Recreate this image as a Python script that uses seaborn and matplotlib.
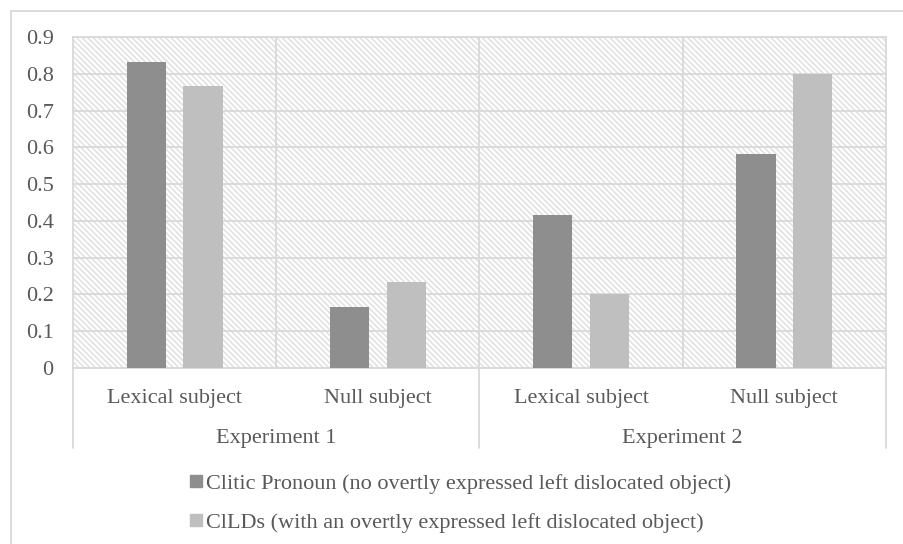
import matplotlib
matplotlib.use("Agg")
import matplotlib.pyplot as plt
import seaborn as sns
import pandas as pd
from matplotlib.lines import Line2D
from matplotlib.patches import Rectangle

# ---- data ----
experiments = ["Experiment 1", "Experiment 2"]
subjects = ["Lexical subject", "Null subject", "Lexical subject", "Null subject"]
series_names = ["Clitic Pronoun (no overtly expressed left dislocated object)",
                "ClLDs (with an overtly expressed left dislocated object)"]
clitic_values = [0.833, 0.167, 0.417, 0.583]
clld_values = [0.767, 0.233, 0.2, 0.8]
y_ticks = [0, 0.1, 0.2, 0.3, 0.4, 0.5, 0.6, 0.7, 0.8, 0.9]
y_tick_labels = ["0", "0.1", "0.2", "0.3", "0.4", "0.5", "0.6", "0.7", "0.8", "0.9"]
colors = ["#8e8e8e", "#bfbfbf"]

keys = [f"{experiments[i // 2]}|{subjects[i]}" for i in range(len(subjects))]
df = pd.DataFrame({
    "key": keys * 2,
    "series": [series_names[0]] * 4 + [series_names[1]] * 4,
    "value": clitic_values + clld_values,
})

sns.set_theme(style="white")
plt.rcParams["font.family"] = ["Liberation Serif", "DejaVu Serif"]
plt.rcParams["hatch.linewidth"] = 1.1
TXT = "#595959"
GRID = "#d9d9d9"
FS = 16

fig = plt.figure(figsize=(9.04, 5.44), dpi=100)
ax = fig.add_axes([73 / 904, 1 - 368 / 544, (886 - 73) / 904, (368 - 37) / 544])

# hatched plot area
ax.patch.set_facecolor("white")
ax.patch.set_edgecolor("#e0e0e0")
ax.patch.set_linewidth(0)
ax.patch.set_hatch("\\\\\\\\\\\\")

sns.barplot(data=df, x="key", y="value", hue="series", order=keys,
            hue_order=series_names, palette=colors, width=0.558, gap=0.31,
            saturation=1, linewidth=0, legend=False, ax=ax, zorder=3)

ax.set_xlim(-0.5, 3.5)
ax.set_ylim(0, 0.9)
ax.set_yticks(y_ticks)
ax.set_yticklabels(y_tick_labels)
ax.set_xticks([])
ax.set_xlabel("")
ax.set_ylabel("")
ax.tick_params(axis="y", length=0, pad=14, labelsize=FS, labelcolor=TXT)
ax.yaxis.grid(True, color=GRID, lw=1.3, zorder=1)
ax.set_axisbelow(True)
for xv in [0.5, 1.5, 2.5]:
    ax.axvline(xv, color=GRID, lw=1.3, zorder=1)
for s in ax.spines.values():
    s.set_color(GRID)
    s.set_linewidth(1.3)

axh = 368 - 37
# category labels
for i, lab in enumerate(subjects):
    ax.text(i, -30 / axh, lab, transform=ax.get_xaxis_transform(), ha="center",
            va="center", fontsize=FS, color=TXT)
for j, lab in enumerate(experiments):
    ax.text(2 * j + 0.5, -70 / axh, lab, transform=ax.get_xaxis_transform(),
            ha="center", va="center", fontsize=FS, color=TXT)
for xv in [-0.5, 1.5, 3.5]:
    ax.plot([xv, xv], [0, -(448 - 368) / axh], transform=ax.get_xaxis_transform(),
            color=GRID, lw=1.3, clip_on=False)

# legend
handles = [Line2D([], [], marker="s", ls="none", markersize=8, color=c) for c in colors]
fig.legend(handles, series_names, loc="center left",
           bbox_to_anchor=(190 / 904, 1 - 503 / 544), frameon=False,
           borderpad=0, borderaxespad=0, handlelength=0.5, handletextpad=0.2,
           labelspacing=0.85, fontsize=FS, labelcolor=TXT)

# chart border
fig.add_artist(Rectangle((10.5 / 904, -0.2), 1.5, 1.2 - 10.5 / 544, transform=fig.transFigure,
                         facecolor="none", edgecolor=GRID, lw=1.3))

fig.savefig("out.png", dpi=100)
